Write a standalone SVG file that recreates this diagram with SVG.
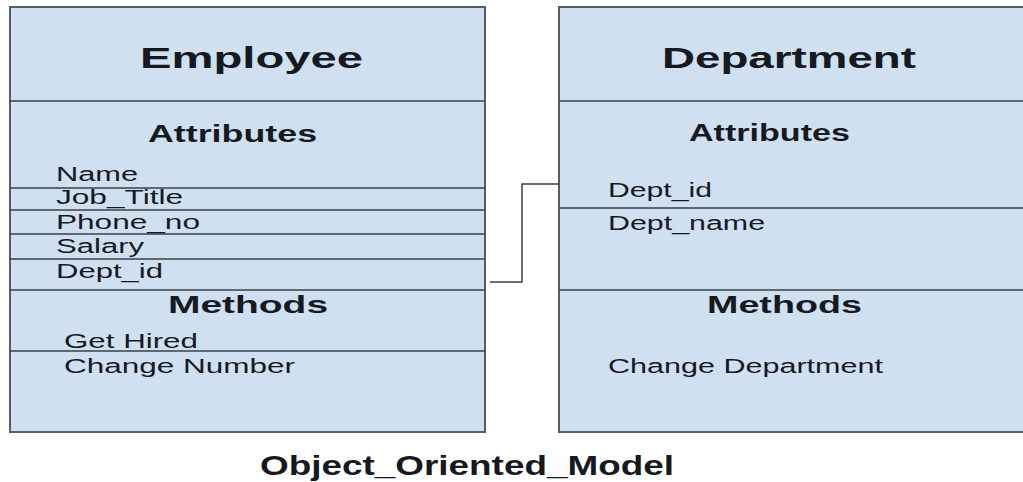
<svg xmlns="http://www.w3.org/2000/svg" width="1023" height="482" viewBox="0 0 1023 482">
<style>
.box{fill:#cfe0f1;stroke:#555d66;stroke-width:2}
.div{stroke:#3a3f45;stroke-width:1.5}
.t{font-family:"Liberation Sans",Arial,sans-serif;fill:#161a1e}
.h1{font-size:30px;font-weight:bold}
.h2{font-size:24px;font-weight:bold}
.it{font-size:21px}
.conn{fill:none;stroke:#3a3f45;stroke-width:1.5}
</style>
<rect width="1023" height="482" fill="#ffffff"/>
<g id="employee">
<rect class="box" x="10" y="7" width="475" height="425"/>
<line class="div" x1="10" y1="101" x2="485" y2="101"/>
<line class="div" x1="10" y1="188" x2="485" y2="188"/>
<line class="div" x1="10" y1="210" x2="485" y2="210"/>
<line class="div" x1="10" y1="234" x2="485" y2="234"/>
<line class="div" x1="10" y1="259" x2="485" y2="259"/>
<line class="div" x1="10" y1="290" x2="485" y2="290"/>
<line class="div" x1="10" y1="351" x2="485" y2="351"/>
<text class="t h1" transform="translate(140,68) scale(1.5,1)" textLength="148.7" lengthAdjust="spacingAndGlyphs">Employee</text>
<text class="t h2" transform="translate(148,142) scale(1.5,1)" textLength="112.7" lengthAdjust="spacingAndGlyphs">Attributes</text>
<text class="t it" transform="translate(56,181) scale(1.5,1)" textLength="54.7" lengthAdjust="spacingAndGlyphs">Name</text>
<text class="t it" transform="translate(56,204) scale(1.5,1)" textLength="84.7" lengthAdjust="spacingAndGlyphs">Job_Title</text>
<text class="t it" transform="translate(56,229) scale(1.5,1)" textLength="96" lengthAdjust="spacingAndGlyphs">Phone_no</text>
<text class="t it" transform="translate(56,253) scale(1.5,1)" textLength="58.7" lengthAdjust="spacingAndGlyphs">Salary</text>
<text class="t it" transform="translate(56,278) scale(1.5,1)" textLength="71.3" lengthAdjust="spacingAndGlyphs">Dept_id</text>
<text class="t h2" transform="translate(168,313) scale(1.5,1)" textLength="106.7" lengthAdjust="spacingAndGlyphs">Methods</text>
<text class="t it" transform="translate(64,348) scale(1.5,1)" textLength="89.3" lengthAdjust="spacingAndGlyphs">Get Hired</text>
<text class="t it" transform="translate(64,373) scale(1.5,1)" textLength="154" lengthAdjust="spacingAndGlyphs">Change Number</text>
</g>
<g id="department">
<rect class="box" x="559" y="7" width="480" height="425"/>
<line class="div" x1="559" y1="101" x2="1023" y2="101"/>
<line class="div" x1="559" y1="208" x2="1023" y2="208"/>
<line class="div" x1="559" y1="290" x2="1023" y2="290"/>
<text class="t h1" transform="translate(662,68) scale(1.5,1)" textLength="169.3" lengthAdjust="spacingAndGlyphs">Department</text>
<text class="t h2" transform="translate(689,141) scale(1.5,1)" textLength="107.3" lengthAdjust="spacingAndGlyphs">Attributes</text>
<text class="t it" transform="translate(608,197) scale(1.5,1)" textLength="69.3" lengthAdjust="spacingAndGlyphs">Dept_id</text>
<text class="t it" transform="translate(608,230) scale(1.5,1)" textLength="104.7" lengthAdjust="spacingAndGlyphs">Dept_name</text>
<text class="t h2" transform="translate(707,313) scale(1.5,1)" textLength="103.3" lengthAdjust="spacingAndGlyphs">Methods</text>
<text class="t it" transform="translate(608,373) scale(1.5,1)" textLength="183.3" lengthAdjust="spacingAndGlyphs">Change Department</text>
</g>
<g id="connectors">
<polyline class="conn" points="490,282 522,282 522,184 559,184"/>
</g>
<g id="caption">
<text class="t" transform="translate(260,475) scale(1.5,1)" font-size="28" font-weight="bold" textLength="276" lengthAdjust="spacingAndGlyphs">Object_Oriented_Model</text>
</g>
</svg>
